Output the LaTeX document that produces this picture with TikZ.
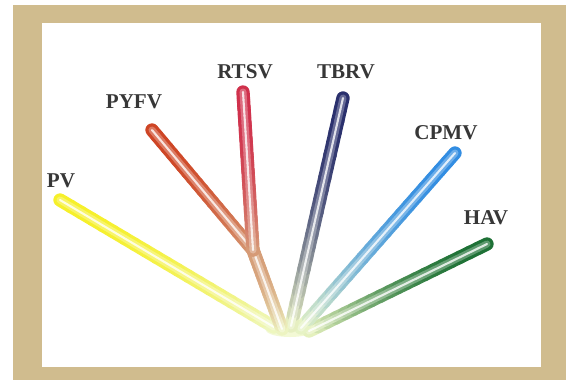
\documentclass[tikz,border=0pt]{standalone}
\usepackage{fontspec}
\setmainfont{Liberation Serif}
\usepackage{xcolor}
\usetikzlibrary{calc}

\definecolor{frametan}{RGB}{208,188,142}
\definecolor{tubebase}{RGB}{238,247,196}
\definecolor{forktan}{RGB}{214,158,120}
\definecolor{pvcol}{RGB}{246,240,40}
\definecolor{pyfvcol}{RGB}{206,68,36}
\definecolor{rtsvcol}{RGB}{208,48,76}
\definecolor{tbrvcol}{RGB}{40,46,108}
\definecolor{cpmvcol}{RGB}{48,140,226}
\definecolor{havcol}{RGB}{28,112,52}
\definecolor{labelgray}{RGB}{55,55,55}

% glass tube from #1 (colour #3) up to #2 (colour #4)
\newcommand{\tube}[4]{%
  \foreach \lw/\sh in {7.6pt/100, 4pt/72, 1.2pt/15}{%
    \foreach \k [evaluate=\k as \ta using \k/20,
                 evaluate=\k as \tb using (\k+1)/20,
                 evaluate=\k as \pc using int(100*(1-(1-(\k+0.5)/20)^2))] in {0,...,19}{%
      \colorlet{seg}{#4!\pc!#3}%
      \draw[line width=\lw, line cap=round, seg!\sh!white]
        ($(#1)!\ta!(#2)$) -- ($(#1)!\tb!(#2)$);
    }%
  }%
}

\begin{document}
\begin{tikzpicture}[x=0.02cm, y=-0.02cm,
    lbl/.style = {font=\bfseries\fontsize{12}{13}\selectfont, text=labelgray, inner sep=0pt}]
    \useasboundingbox (0,0) rectangle (566,380);

    % frame
    \fill[frametan] (13,5) rectangle (566,380);
    \fill[white] (42,23) rectangle (541,367);

    % ends of the tubes
    \coordinate (pvroot)   at (274,327);
    \coordinate (trunk)    at (282,329);
    \coordinate (fork)     at (253,250);
    \coordinate (tbrvroot) at (291,326);
    \coordinate (cpmvroot) at (301,328);
    \coordinate (havroot)  at (309,331);
    \coordinate (pv)   at (60,200);
    \coordinate (pyfv) at (152,130);
    \coordinate (rtsv) at (243,92);
    \coordinate (tbrv) at (343,98);
    \coordinate (cpmv) at (455,153);
    \coordinate (hav)  at (487,244);

    % pale glow where the tubes meet
    \fill[tubebase, opacity=0.7] (290,330) ellipse (24 and 7);

    % tubes
    \tube{pvroot}{pv}{tubebase}{pvcol}
    \tube{havroot}{hav}{tubebase}{havcol}
    \tube{cpmvroot}{cpmv}{tubebase}{cpmvcol}
    \tube{tbrvroot}{tbrv}{tubebase}{tbrvcol}
    \tube{trunk}{fork}{tubebase}{forktan}
    \tube{fork}{pyfv}{forktan}{pyfvcol}
    \tube{fork}{rtsv}{forktan}{rtsvcol}

    % labels
    \node[lbl] (pvlbl)   at (61,181)  {PV};
    \node[lbl] (pyfvlbl) at (134,102) {PYFV};
    \node[lbl] (rtsvlbl) at (245,72)  {RTSV};
    \node[lbl] (tbrvlbl) at (346,72)  {TBRV};
    \node[lbl] (cpmvlbl) at (446,133) {CPMV};
    \node[lbl] (havlbl)  at (486,218) {HAV};
\end{tikzpicture}
\end{document}
